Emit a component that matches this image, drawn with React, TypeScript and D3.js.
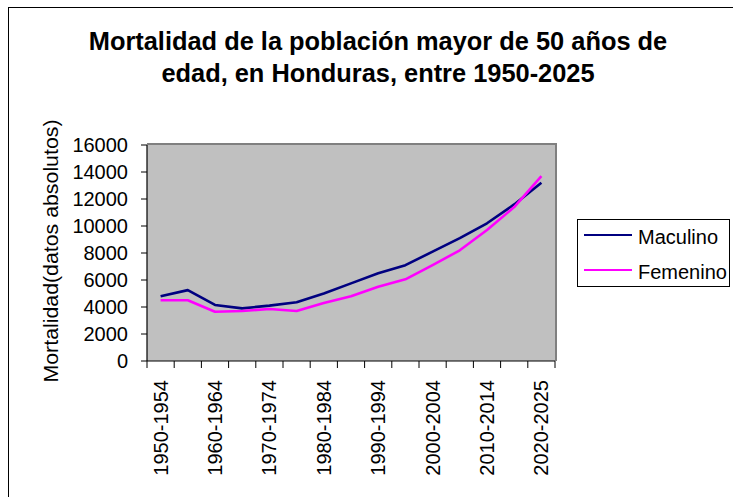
import React from "react";
import * as d3 from "d3";

// Periods (15 five-year intervals)
const periods = [
  "1950-1954", "1955-1959", "1960-1964", "1965-1969", "1970-1974",
  "1975-1979", "1980-1984", "1985-1989", "1990-1994", "1995-1999",
  "2000-2004", "2005-2009", "2010-2014", "2015-2019", "2020-2025",
];

const maculino = [4800, 5250, 4150, 3900, 4100, 4350, 5000, 5750, 6500, 7100, 8100, 9100, 10200, 11600, 13200];
const femenino = [4500, 4500, 3650, 3700, 3850, 3700, 4300, 4800, 5500, 6050, 7100, 8200, 9700, 11400, 13700];

const yTicks = [0, 2000, 4000, 6000, 8000, 10000, 12000, 14000, 16000];

const series = [
  { name: "Maculino", values: maculino, color: "#000080" },
  { name: "Femenino", values: femenino, color: "#FF00FF" },
];

const titleLines = [
  "Mortalidad de la población mayor de 50 años de",
  "edad, en Honduras, entre 1950-2025",
];
const yTitle = "Mortalidad(datos absolutos)";

const FONT = "'Liberation Sans', Arial, sans-serif";

const W = 733;
const H = 497;
const plot = { left: 147, right: 555, top: 145, bottom: 361 };

export default function App() {
  const x = d3.scaleBand<string>().domain(periods).range([plot.left, plot.right]).paddingInner(0).paddingOuter(0);
  const y = d3.scaleLinear().domain([0, 16000]).range([plot.bottom, plot.top]);
  const cx = (p: string) => (x(p) as number) + x.bandwidth() / 2;

  const line = d3
    .line<number>()
    .x((_, i) => cx(periods[i]))
    .y((v) => y(v));

  const boundaries = periods.map((p) => x(p) as number).concat([plot.right]);

  return (
    <svg
      width={W}
      height={H}
      style={{ position: "absolute", left: 0, top: 0, background: "#fff" }}
      fontFamily={FONT}
    >
      {/* chart frame */}
      <rect x={8.5} y={7.5} width={900} height={700} fill="#fff" stroke="#000" strokeWidth={1} />

      {/* title */}
      {titleLines.map((t, i) => (
        <text key={t} x={378} y={50 + i * 32} textAnchor="middle" fontSize={25.4} fontWeight="bold">
          {t}
        </text>
      ))}

      {/* plot area */}
      <rect x={plot.left} y={plot.top} width={plot.right - plot.left} height={plot.bottom - plot.top} fill="#C0C0C0" />
      <path
        d={`M${plot.left},${plot.top - 1}H${plot.right + 1}V${plot.bottom}`}
        fill="none"
        stroke="#808080"
        strokeWidth={2}
      />

      {/* lines */}
      {series.map((s) => (
        <path key={s.name} d={line(s.values) || ""} fill="none" stroke={s.color} strokeWidth={2.6} strokeLinejoin="round" />
      ))}

      {/* y axis */}
      <line x1={plot.left} x2={plot.left} y1={plot.top} y2={plot.bottom} stroke="#000" strokeWidth={1.2} />
      {yTicks.map((t) => (
        <g key={t}>
          <line x1={plot.left - 6} x2={plot.left} y1={y(t)} y2={y(t)} stroke="#000" strokeWidth={1} />
          <text x={128} y={y(t) + 7} textAnchor="end" fontSize={20}>
            {t}
          </text>
        </g>
      ))}

      {/* y axis title */}
      <text
        transform={`translate(58,251) rotate(-90)`}
        textAnchor="middle"
        fontSize={20}
        textLength={263}
        lengthAdjust="spacingAndGlyphs"
      >
        {yTitle}
      </text>

      {/* x axis */}
      <line x1={plot.left} x2={plot.right} y1={plot.bottom} y2={plot.bottom} stroke="#000" strokeWidth={1.2} />
      {boundaries.map((b, i) => (
        <line key={i} x1={b} x2={b} y1={plot.bottom} y2={plot.bottom + 7} stroke="#000" strokeWidth={1} />
      ))}
      {periods.map((p, i) =>
        i % 2 === 0 ? (
          <text
            key={p}
            transform={`translate(${cx(p) + 7},380) rotate(-90)`}
            textAnchor="end"
            fontSize={20}
          >
            {p}
          </text>
        ) : null
      )}

      {/* legend */}
      <rect x={577.5} y={219.5} width={152} height={67} fill="#fff" stroke="#000" strokeWidth={1} />
      {series.map((s, i) => (
        <g key={s.name}>
          <line x1={584} x2={632} y1={235 + i * 35} y2={235 + i * 35} stroke={s.color} strokeWidth={2} />
          <text x={638} y={244 + i * 35} fontSize={20}>
            {s.name}
          </text>
        </g>
      ))}
    </svg>
  );
}
